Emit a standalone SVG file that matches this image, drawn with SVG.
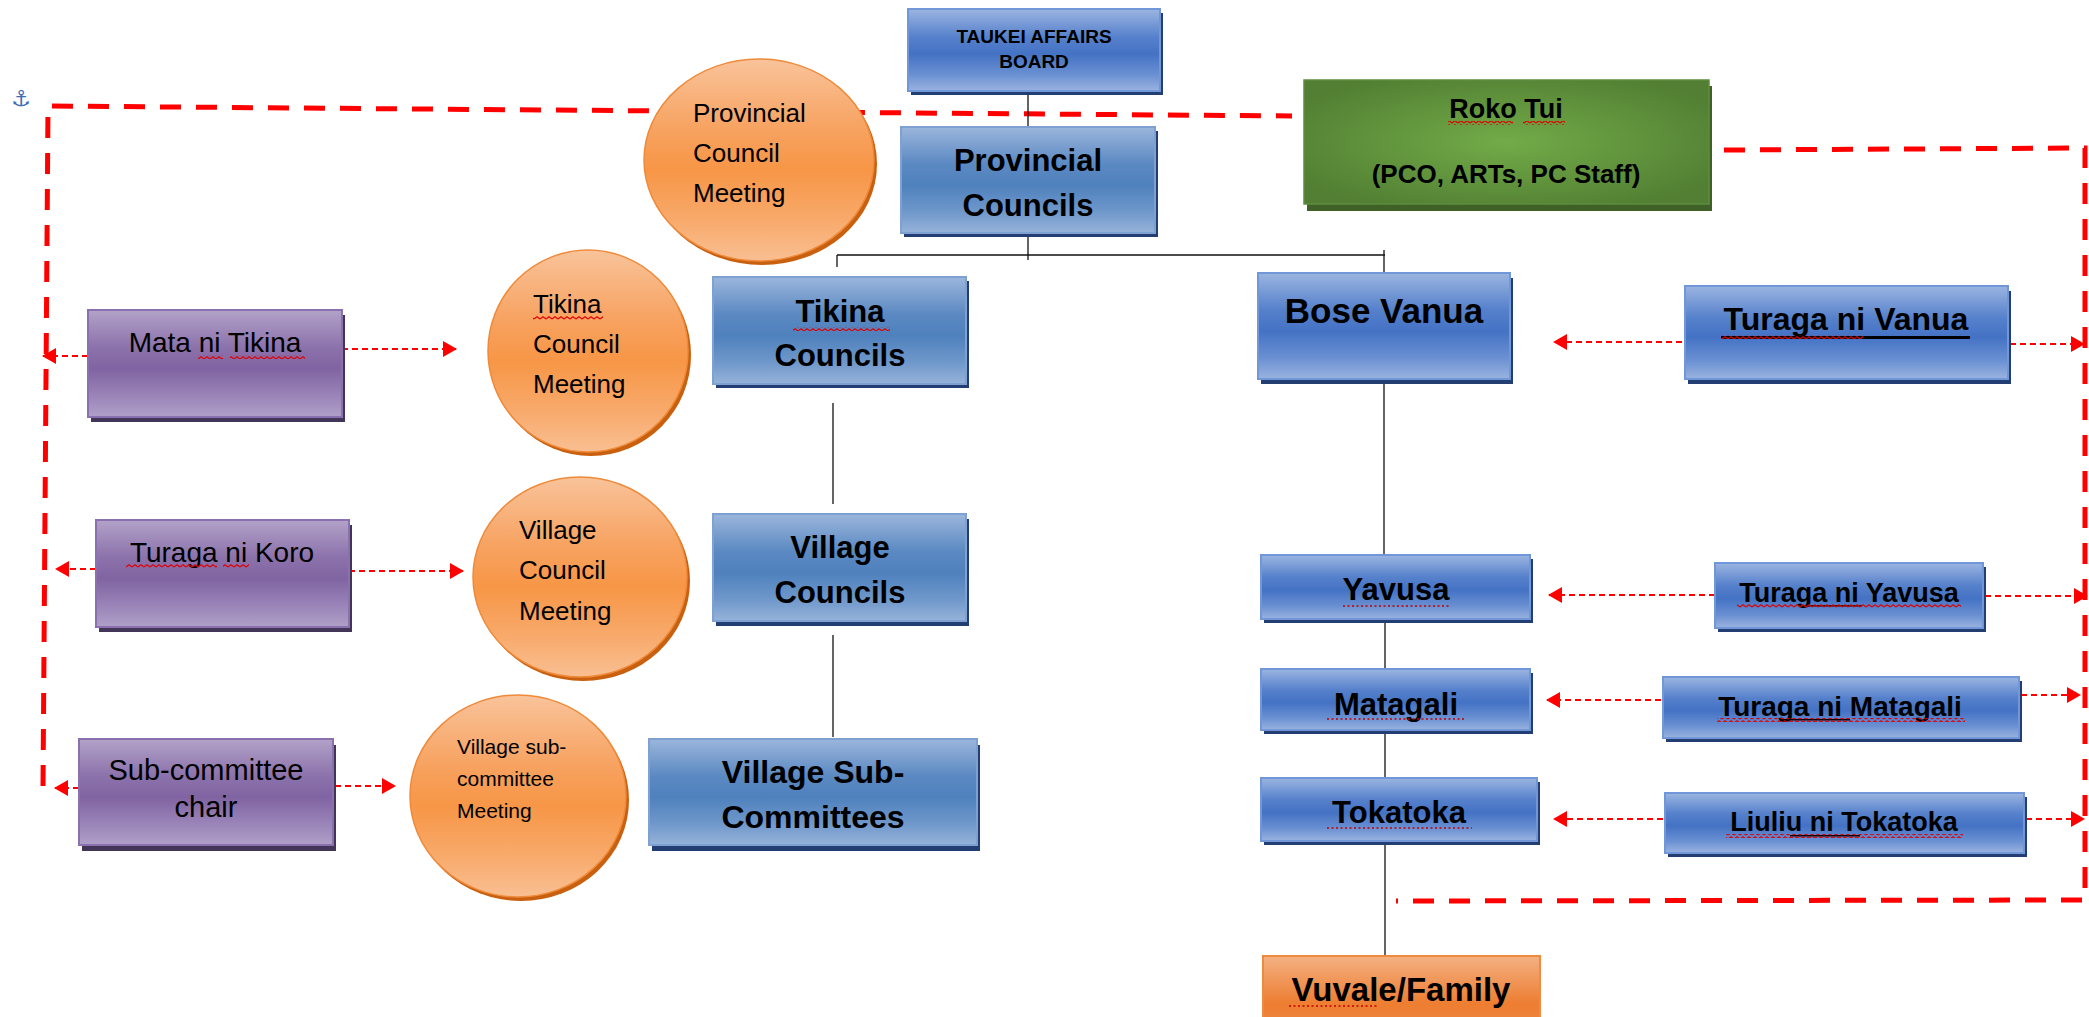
<svg xmlns="http://www.w3.org/2000/svg" width="2089" height="1017" viewBox="0 0 2089 1017">
<defs>
<linearGradient id="gBlue" x1="0" y1="0" x2="0" y2="1">
<stop offset="0" stop-color="#9BB5E1"/><stop offset="0.35" stop-color="#5580CB"/><stop offset="0.55" stop-color="#4472C4"/><stop offset="0.8" stop-color="#6A90D2"/><stop offset="1" stop-color="#9AB3E0"/>
</linearGradient>
<linearGradient id="gSteel" x1="0" y1="0" x2="0" y2="1">
<stop offset="0" stop-color="#9BB6DC"/><stop offset="0.35" stop-color="#5B89C2"/><stop offset="0.55" stop-color="#4F81BD"/><stop offset="0.8" stop-color="#6F98CB"/><stop offset="1" stop-color="#96B3D9"/>
</linearGradient>
<linearGradient id="gPurple" x1="0" y1="0" x2="0" y2="1">
<stop offset="0" stop-color="#B2A2C8"/><stop offset="0.35" stop-color="#8C72AB"/><stop offset="0.55" stop-color="#8064A2"/><stop offset="0.8" stop-color="#9A84B8"/><stop offset="1" stop-color="#B0A0C8"/>
</linearGradient>
<linearGradient id="gOrange" x1="0" y1="0" x2="0" y2="1">
<stop offset="0" stop-color="#F9C39A"/><stop offset="0.35" stop-color="#F7A260"/><stop offset="0.55" stop-color="#F79646"/><stop offset="0.8" stop-color="#F8AA6C"/><stop offset="1" stop-color="#F9BF92"/>
</linearGradient>
<linearGradient id="gVuvale" x1="0" y1="0" x2="0" y2="1">
<stop offset="0" stop-color="#F4B183"/><stop offset="0.6" stop-color="#ED7D31"/><stop offset="1" stop-color="#EE8A45"/>
</linearGradient>
<radialGradient id="gGreen" cx="0.5" cy="0.5" r="0.6">
<stop offset="0" stop-color="#72AB48"/><stop offset="1" stop-color="#527F33"/>
</radialGradient>
<pattern id="wave" width="6" height="4" patternUnits="userSpaceOnUse">
<path d="M0 3 L3 0.8 L6 3" stroke="#E00000" stroke-width="1.1" fill="none"/>
</pattern>
<marker id="ah" markerUnits="userSpaceOnUse" markerWidth="14" markerHeight="16" refX="13" refY="8" orient="auto">
<path d="M0 0 L14 8 L0 16 Z" fill="#FF0000"/>
</marker>
<style>
.t{font-family:'Liberation Sans',Arial,sans-serif;fill:#000}
.b{font-weight:bold}
.c{text-anchor:middle}
.shB{fill:#223E72}
.bB{fill:url(#gBlue);stroke:#7297D8;stroke-width:2}
.bS{fill:url(#gSteel);stroke:#7EA1D1;stroke-width:2}
.shP{fill:#433558}
.bP{fill:url(#gPurple);stroke:#8A70AE;stroke-width:2}
.shO{fill:#C8600F}
.bO{fill:url(#gOrange);stroke:#EE8A3A;stroke-width:1.5}
.conn{stroke:#111;stroke-width:1.3;fill:none}
.red{stroke:#FF0000;stroke-width:5;stroke-dasharray:21 15;fill:none}
.dot{stroke:#FF0000;stroke-width:2.2;stroke-dasharray:6 4;fill:none;marker-end:url(#ah)}
.sq{fill:url(#wave)}
.dl{stroke:#C00000;stroke-width:1.5;stroke-dasharray:2 2.5;fill:none}
.ul{fill:#000}
</style>
</defs>
<rect width="2089" height="1017" fill="#FFFFFF"/>

<g id="connectors">
<path class="red" d="M43 786 L48 106 L1292 116"/>
<path class="red" d="M1724 150 L2085 148 L2085 900 L1396 901"/>
<path class="conn" d="M1028 91 V127"/>
<path class="conn" d="M1028 237 V260"/>
<path class="conn" d="M837 255 H1385"/>
<path class="conn" d="M837 255 V267"/>
<path class="conn" d="M1384 250 V273"/>
<path class="conn" d="M1384 384 V555"/>
<path class="conn" d="M1385 623 V669"/>
<path class="conn" d="M1385 734 V778"/>
<path class="conn" d="M1385 844 V956"/>
<path class="conn" d="M833 403 V504"/>
<path class="conn" d="M833 635 V737"/>
<path class="dot" d="M88 356 H43"/>
<path class="dot" d="M342 349 H456"/>
<path class="dot" d="M96 569 H56"/>
<path class="dot" d="M349 571 H463"/>
<path class="dot" d="M79 788 H55"/>
<path class="dot" d="M335 786 H395"/>
<path class="dot" d="M1682 342 H1554"/>
<path class="dot" d="M2010 344 H2084"/>
<path class="dot" d="M1715 595 H1549"/>
<path class="dot" d="M1985 596 H2087"/>
<path class="dot" d="M1661 700 H1547"/>
<path class="dot" d="M2021 695 H2080"/>
<path class="dot" d="M1663 819 H1554"/>
<path class="dot" d="M2026 819 H2084"/>
</g>

<g id="anchor">
<text x="21" y="106" font-family="'DejaVu Sans',sans-serif" font-size="22" fill="#3E6DB5" text-anchor="middle">⚓</text>
</g>

<g id="taukei-affairs-board">
<rect class="shB" x="911" y="13" width="252" height="82"/>
<rect class="bB" x="908" y="9" width="252" height="82"/>
<text class="t b c" x="1034" y="43" font-size="19">TAUKEI AFFAIRS</text>
<text class="t b c" x="1034" y="68" font-size="19">BOARD</text>
</g>

<g id="provincial-councils">
<rect class="shB" x="904" y="131" width="254" height="106"/>
<rect class="bS" x="901" y="127" width="254" height="106"/>
<text class="t b c" x="1028" y="171" font-size="31">Provincial</text>
<text class="t b c" x="1028" y="216" font-size="31">Councils</text>
</g>

<g id="provincial-council-meeting">
<ellipse class="shO" cx="762" cy="164" rx="115" ry="101"/>
<ellipse class="bO" cx="759" cy="160" rx="115" ry="101"/>
<text class="t" x="693" y="122" font-size="26">Provincial</text>
<text class="t" x="693" y="162" font-size="26">Council</text>
<text class="t" x="693" y="202" font-size="26">Meeting</text>
</g>

<g id="roko-tui">
<rect x="1307" y="86" width="405" height="125" fill="#3F6127"/>
<rect x="1304" y="80" width="405" height="124" fill="url(#gGreen)" stroke="#5E8D3C" stroke-width="1.5"/>
<text class="t b c" x="1506" y="118" font-size="27">Roko Tui</text>
<rect class="sq" x="1448" y="121" width="65" height="4"/>
<rect class="sq" x="1523" y="121" width="42" height="4"/>
<text class="t b c" x="1506" y="183" font-size="26">(PCO, ARTs, PC Staff)</text>
</g>

<g id="tikina-councils">
<rect class="shB" x="716" y="281" width="253" height="107"/>
<rect class="bS" x="713" y="277" width="253" height="107"/>
<text class="t b c" x="840" y="322" font-size="31">Tikina</text>
<rect class="sq" x="793" y="327" width="97" height="4"/>
<text class="t b c" x="840" y="366" font-size="31">Councils</text>
</g>

<g id="tikina-council-meeting">
<ellipse class="shO" cx="591" cy="355" rx="100" ry="101"/>
<ellipse class="bO" cx="588" cy="351" rx="100" ry="101"/>
<text class="t" x="533" y="313" font-size="26">Tikina</text>
<rect class="sq" x="533" y="316" width="70" height="4"/>
<text class="t" x="533" y="353" font-size="26">Council</text>
<text class="t" x="533" y="393" font-size="26">Meeting</text>
</g>

<g id="mata-ni-tikina">
<rect class="shP" x="91" y="315" width="254" height="107"/>
<rect class="bP" x="88" y="310" width="254" height="107"/>
<text class="t c" x="215" y="352" font-size="28">Mata ni Tikina</text>
<rect class="sq" x="198" y="355" width="25" height="4"/>
<rect class="sq" x="230" y="355" width="75" height="4"/>
</g>

<g id="bose-vanua">
<rect class="shB" x="1261" y="278" width="252" height="106"/>
<rect class="bB" x="1258" y="273" width="252" height="106"/>
<text class="t b c" x="1384" y="323" font-size="35">Bose Vanua</text>
</g>

<g id="turaga-ni-vanua">
<rect class="shB" x="1688" y="291" width="323" height="93"/>
<rect class="bB" x="1685" y="286" width="323" height="93"/>
<text class="t b c" x="1846" y="330" font-size="32">Turaga ni Vanua</text>
<rect class="ul" x="1721" y="336" width="249" height="3"/>
<rect class="sq" x="1721" y="335" width="142" height="4"/>
</g>

<g id="village-council-meeting">
<ellipse class="shO" cx="583" cy="581" rx="107" ry="100"/>
<ellipse class="bO" cx="580" cy="577" rx="107" ry="100"/>
<text class="t" x="519" y="539" font-size="26">Village</text>
<text class="t" x="519" y="579" font-size="26">Council</text>
<text class="t" x="519" y="620" font-size="26">Meeting</text>
</g>

<g id="village-councils">
<rect class="shB" x="716" y="519" width="253" height="107"/>
<rect class="bS" x="713" y="514" width="253" height="107"/>
<text class="t b c" x="840" y="558" font-size="31">Village</text>
<text class="t b c" x="840" y="603" font-size="31">Councils</text>
</g>

<g id="turaga-ni-koro">
<rect class="shP" x="99" y="525" width="253" height="107"/>
<rect class="bP" x="96" y="520" width="253" height="107"/>
<text class="t c" x="222" y="562" font-size="28">Turaga ni Koro</text>
<rect class="sq" x="126" y="564" width="91" height="4"/>
<rect class="sq" x="223" y="564" width="26" height="4"/>
</g>

<g id="village-sub-committees">
<rect class="shB" x="652" y="745" width="328" height="106"/>
<rect class="bS" x="649" y="739" width="328" height="106"/>
<text class="t b c" x="813" y="783" font-size="32">Village Sub-</text>
<text class="t b c" x="813" y="828" font-size="32">Committees</text>
</g>

<g id="sub-committee-chair">
<rect class="shP" x="82" y="745" width="254" height="106"/>
<rect class="bP" x="79" y="739" width="254" height="106"/>
<text class="t c" x="206" y="780" font-size="29">Sub-committee</text>
<text class="t c" x="206" y="817" font-size="29">chair</text>
</g>

<g id="village-sub-committee-meeting">
<ellipse class="shO" cx="521" cy="800" rx="108" ry="101"/>
<ellipse class="bO" cx="518" cy="796" rx="108" ry="101"/>
<text class="t" x="457" y="754" font-size="21">Village sub-</text>
<text class="t" x="457" y="786" font-size="21">committee</text>
<text class="t" x="457" y="818" font-size="21">Meeting</text>
</g>

<g id="yavusa">
<rect class="shB" x="1264" y="559" width="269" height="64"/>
<rect class="bB" x="1261" y="555" width="269" height="64"/>
<text class="t b c" x="1396" y="600" font-size="31">Yavusa</text>
<path class="dl" d="M1343 606 H1450"/>
</g>

<g id="turaga-ni-yavusa">
<rect class="shB" x="1718" y="567" width="268" height="65"/>
<rect class="bB" x="1715" y="563" width="268" height="65"/>
<text class="t b c" x="1849" y="602" font-size="27">Turaga ni Yavusa</text>
<rect class="ul" x="1800" y="605" width="62" height="1.5"/>
<rect class="sq" x="1737" y="604" width="224" height="4"/>
</g>

<g id="matagali">
<rect class="shB" x="1264" y="673" width="269" height="61"/>
<rect class="bB" x="1261" y="669" width="269" height="61"/>
<text class="t b c" x="1396" y="715" font-size="31">Matagali</text>
<path class="dl" d="M1327 719 H1465"/>
</g>

<g id="turaga-ni-matagali">
<rect class="shB" x="1666" y="681" width="356" height="61"/>
<rect class="bB" x="1663" y="677" width="356" height="61"/>
<text class="t b c" x="1840" y="716" font-size="28">Turaga ni Matagali</text>
<rect class="ul" x="1780" y="719" width="70" height="1.5"/>
<rect class="sq" x="1717" y="718" width="248" height="4"/>
</g>

<g id="tokatoka">
<rect class="shB" x="1264" y="782" width="276" height="63"/>
<rect class="bB" x="1261" y="778" width="276" height="63"/>
<text class="t b c" x="1399" y="823" font-size="31">Tokatoka</text>
<path class="dl" d="M1327 828 H1472"/>
</g>

<g id="liuliu-ni-tokatoka">
<rect class="shB" x="1668" y="797" width="359" height="60"/>
<rect class="bB" x="1665" y="793" width="359" height="60"/>
<text class="t b c" x="1844" y="831" font-size="27">Liuliu ni Tokatoka</text>
<rect class="ul" x="1790" y="835" width="70" height="1.5"/>
<rect class="sq" x="1726" y="834" width="237" height="4"/>
</g>

<g id="vuvale-family">
<rect x="1263" y="956" width="277" height="80" fill="url(#gVuvale)" stroke="#F08A40" stroke-width="2"/>
<text class="t b c" x="1401" y="1001" font-size="33">Vuvale/Family</text>
<path class="dl" d="M1289 1006 H1378"/>
</g>
</svg>
